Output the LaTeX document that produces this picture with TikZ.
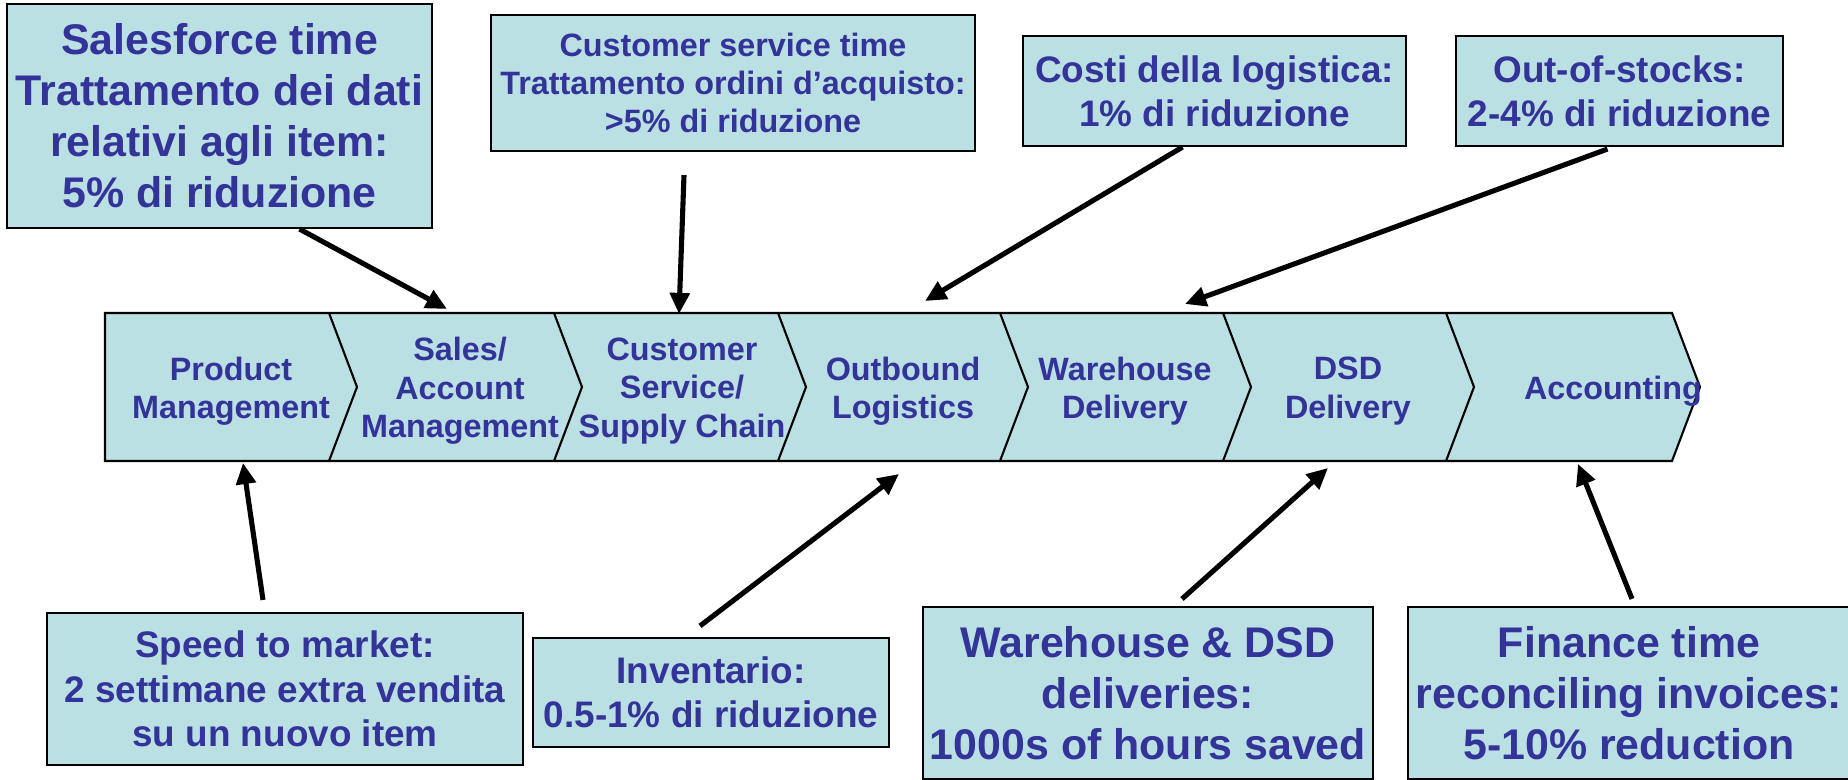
\documentclass[tikz,border=0pt]{standalone}
\usepackage{fontspec}
\setmainfont{Liberation Sans}
\usetikzlibrary{arrows.meta}
\definecolor{boxfill}{RGB}{187,224,227}
\definecolor{txtblue}{RGB}{51,51,153}

\begin{document}
\begin{tikzpicture}[>={Triangle[length=6pt,width=5.5pt]},
    box/.style={draw, line width=0.6pt, fill=boxfill, text=txtblue, align=center, inner sep=0pt},
    big/.style={font=\fontsize{12.2}{14.5}\selectfont\bfseries},
    mid/.style={font=\fontsize{10.5}{12.6}\selectfont\bfseries},
    small/.style={font=\fontsize{9.2}{10.9}\selectfont\bfseries},
    seg/.style={small, text=txtblue, align=center, inner sep=0pt},
    arr/.style={->, line width=1.45pt}]
  \useasboundingbox (0,0) rectangle (18.48,7.8);
  \clip (0,0) rectangle (18.48,7.8);

  % value chain band
  \draw[line width=0.6pt, fill=boxfill] (1.05,4.67) -- (16.72,4.67) -- (17.00,3.93)
      -- (16.72,3.19) -- (1.05,3.19) -- cycle;
  \foreach \x in {3.29,5.54,7.78,10.00,12.23,14.46}
    \draw[line width=0.6pt] (\x,4.67) -- (\x+0.28,3.93) -- (\x,3.19);

  \node[seg] (prod) at (2.31,3.89) {Product\\Management};
  \node[seg] (sales) at (4.60,3.89) {Sales/\\Account\\Management};
  \node[seg] (custsvc) at (6.82,3.89) {Customer\\Service/\\Supply Chain};
  \node[seg] (outlog) at (9.03,3.89) {Outbound\\Logistics};
  \node[seg] (whdel) at (11.25,3.89) {Warehouse\\Delivery};
  \node[seg] (dsddel) at (13.48,3.89) {DSD\\Delivery};
  \node[seg] (acct) at (16.13,3.89) {Accounting};

  % benefit boxes
  \node[box, big, minimum width=4.25cm, minimum height=2.24cm] (sf) at (2.195,6.64)
      {Salesforce time\\Trattamento dei dati\\relativi agli item:\\5\% di riduzione};
  \node[box, small, minimum width=4.84cm, minimum height=1.36cm] (cs) at (7.33,6.97)
      {Customer service time\\Trattamento ordini d’acquisto:\\>5\% di riduzione};
  \node[box, mid, minimum width=3.83cm, minimum height=1.10cm] (costi) at (12.145,6.89)
      {Costi della logistica:\\1\% di riduzione};
  \node[box, mid, minimum width=3.27cm, minimum height=1.10cm] (oos) at (16.195,6.89)
      {Out-of-stocks:\\2-4\% di riduzione};
  \node[box, mid, minimum width=4.76cm, minimum height=1.52cm] (speed) at (2.85,0.91)
      {Speed to market:\\2 settimane extra vendita\\su un nuovo item};
  \node[box, mid, minimum width=3.56cm, minimum height=1.09cm] (inv) at (7.11,0.875)
      {Inventario:\\0.5-1\% di riduzione};
  \node[box, big, minimum width=4.50cm, minimum height=1.72cm] (wh) at (11.48,0.87)
      {Warehouse \& DSD\\deliveries:\\1000s of hours saved};
  \node[box, big, minimum width=4.42cm, minimum height=1.72cm] (fin) at (16.29,0.87)
      {Finance time\\reconciling invoices:\\5-10\% reduction};

  \coordinate (t1) at (4.47,4.71);
  \coordinate (t2) at (6.79,4.66);
  \coordinate (t3) at (9.25,4.79);
  \coordinate (t4) at (11.85,4.76);
  \coordinate (t5) at (2.43,3.17);
  \coordinate (t6) at (8.99,3.06);
  \coordinate (t7) at (13.28,3.12);
  \coordinate (t8) at (15.78,3.16);

  \draw[arr] ([xshift=8mm]sf.south) -- (t1);
  \draw[arr] ([xshift=-4.9mm,yshift=-2.3mm]cs.south) -- (t2);
  \draw[arr] ([xshift=-3.2mm]costi.south) -- (t3);
  \draw[arr] ([xshift=-1.2mm,yshift=-0.2mm]oos.south) -- (t4);
  \draw[arr] ([xshift=-2.2mm,yshift=1.2mm]speed.north) -- (t5);
  \draw[arr] ([xshift=-1.1mm,yshift=1.1mm]inv.north) -- (t6);
  \draw[arr] ([xshift=3.4mm,yshift=0.7mm]wh.north) -- (t7);
  \draw[arr] ([xshift=0.3mm,yshift=0.7mm]fin.north) -- (t8);
\end{tikzpicture}
\end{document}
